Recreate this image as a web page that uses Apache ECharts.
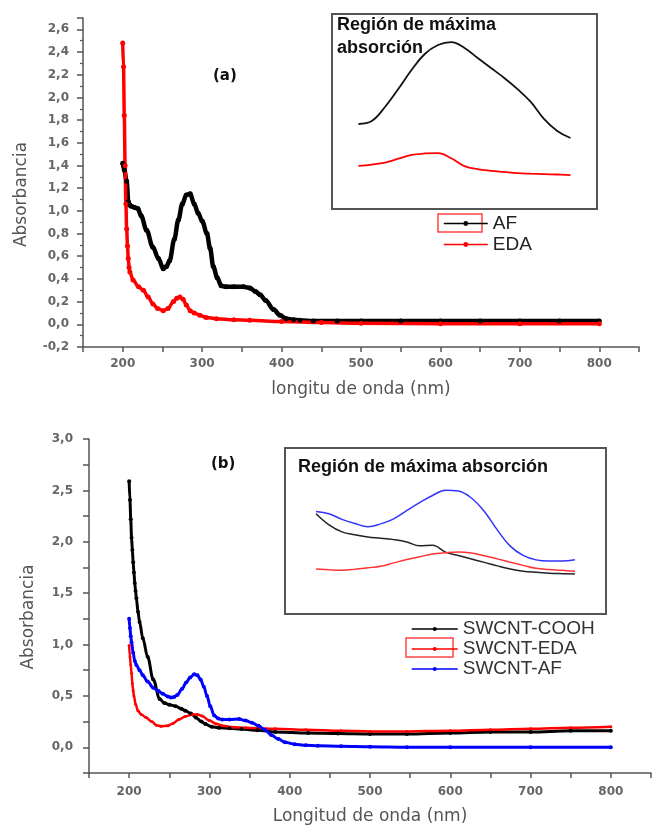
<!DOCTYPE html>
<html>
<head>
<meta charset="utf-8">
<script src="https://cdn.jsdelivr.net/npm/echarts@6/dist/echarts.min.js"></script>
<style>html,body{margin:0;padding:0;background:#fff}#c{width:654px;height:827px}</style>
</head>
<body>
<div id="c"></div>
<script>
// ---------- Panel (a) main data ----------
var aAF_x = [200,202,205,207,209,211,215,219,223,230,238,245,251,255,259,265,270,275,280,285,290,295,300,306,310,314,319,324,330,340,352,360,367,373,380,390,398,406,415,423,440,470,500,550,600,650,700,750,800];
var aAF_y = [1.42,1.36,1.26,1.08,1.05,1.04,1.03,1.02,0.96,0.83,0.68,0.58,0.49,0.51,0.56,0.75,0.92,1.06,1.14,1.15,1.06,0.98,0.91,0.80,0.67,0.51,0.41,0.34,0.33,0.33,0.33,0.32,0.29,0.26,0.21,0.13,0.08,0.05,0.04,0.035,0.03,0.03,0.03,0.03,0.03,0.03,0.03,0.03,0.03];
var aEDA_x = [200,201,202,203,204,205,206,207,208,209,213,220,226,232,238,244,251,257,264,268,272,276,280,285,290,297,305,318,340,360,400,450,500,600,700,800];
var aEDA_y = [2.48,2.27,1.84,1.40,1.06,0.84,0.69,0.58,0.50,0.46,0.39,0.33,0.30,0.24,0.18,0.14,0.12,0.14,0.20,0.23,0.24,0.22,0.17,0.12,0.10,0.08,0.06,0.05,0.04,0.035,0.025,0.015,0.01,0.005,0.005,0.005];
// ---------- Panel (a) inset data ----------
var aIn_x = [240,245,250,255,260,265,270,275,280,285,290,295,300,305,310,315,320];
var aInAF_y = [0.436,0.451,0.523,0.615,0.713,0.795,0.841,0.856,0.826,0.774,0.723,0.672,0.615,0.549,0.462,0.400,0.364];
var aInEDA_y = [0.221,0.228,0.238,0.258,0.277,0.285,0.287,0.260,0.220,0.204,0.196,0.190,0.184,0.181,0.179,0.177,0.174];
// ---------- Panel (b) main data ----------
var bCOOH_x = [200,201,202,203,204,205,206,207,208,209,211,213,217,223,230,238,244,250,258,265,270,277,283,290,295,303,312,325,340,360,382,423,460,500,546,600,650,700,750,800];
var bCOOH_y = [2.59,2.41,2.22,2.04,1.92,1.80,1.70,1.60,1.52,1.45,1.32,1.22,1.06,0.88,0.66,0.47,0.43,0.415,0.40,0.375,0.355,0.33,0.29,0.25,0.226,0.20,0.19,0.185,0.178,0.165,0.15,0.14,0.135,0.13,0.13,0.14,0.15,0.15,0.16,0.16];
var bEDA_x = [200,201,202,203,204,205,206,208,211,215,221,228,234,240,248,255,262,270,279,285,291,300,308,316,330,345,382,420,464,500,546,600,650,700,750,800];
var bEDA_y = [0.99,0.88,0.80,0.72,0.62,0.55,0.50,0.42,0.355,0.32,0.29,0.25,0.215,0.205,0.21,0.235,0.27,0.30,0.32,0.32,0.305,0.26,0.23,0.21,0.195,0.19,0.18,0.17,0.16,0.155,0.155,0.16,0.17,0.18,0.19,0.20];
var bAF_x = [200,201,202,203,205,207,209,213,217,223,230,236,242,248,252,256,260,266,271,276,281,285,289,293,297,301,306,311,316,325,337,345,353,361,369,377,386,394,406,420,435,464,500,546,600,700,800];
var bAF_y = [1.25,1.16,1.08,1.02,0.92,0.84,0.80,0.75,0.70,0.64,0.58,0.55,0.52,0.495,0.485,0.49,0.51,0.57,0.63,0.68,0.71,0.70,0.66,0.59,0.50,0.40,0.31,0.28,0.27,0.27,0.275,0.26,0.24,0.21,0.17,0.12,0.08,0.05,0.03,0.02,0.015,0.01,0.005,0.0,0.0,0.0,0.0];
// ---------- Panel (b) inset data ----------
var bIn_x = [240,245,250,255,260,265,270,275,280,285,290,295,300,305,310,315,320,325,330,335,340];
var bInAF_y = [0.618,0.604,0.570,0.545,0.526,0.543,0.573,0.623,0.671,0.714,0.746,0.741,0.699,0.618,0.507,0.409,0.353,0.326,0.319,0.319,0.327];
var bInCOOH_y = [0.604,0.537,0.495,0.478,0.464,0.457,0.448,0.434,0.411,0.414,0.373,0.352,0.331,0.311,0.290,0.271,0.258,0.251,0.246,0.243,0.241];
var bInEDA_y = [0.271,0.267,0.264,0.269,0.278,0.288,0.308,0.328,0.345,0.362,0.369,0.373,0.367,0.351,0.332,0.312,0.293,0.275,0.268,0.263,0.257];

function zip(xs, ys){ return xs.map(function(x,i){ return [x, ys[i]]; }); }
function comma(v, d){ return v.toFixed(d).replace('.', ','); }

var axisCol = '#555';
var tickFont = {fontFamily:'DejaVu Sans', fontWeight:'bold', fontSize:12, color:'#666'};
var nameFont = {fontFamily:'DejaVu Sans', fontSize:17, color:'#555'};
function xFmt(v){ return (v%100===0 && v>=200 && v<=800) ? String(v) : ''; }

function mainX(gi, nameStr, gap, margin){
  return {
    type:'value', gridIndex:gi, min:150, max:850, interval:50,
    name:nameStr, nameLocation:'middle', nameGap:gap, nameTextStyle:nameFont,
    axisLine:{show:true, onZero:false, lineStyle:{color:axisCol, width:1.5}},
    axisTick:{show:true, length:5, lineStyle:{color:axisCol, width:1.5}},
    axisLabel:Object.assign({margin:margin, formatter:xFmt}, tickFont),
    splitLine:{show:false}
  };
}

var option = {
  animation:false,
  backgroundColor:'#fff',
  grid:[
    {left:83, top:18, right:15, bottom:480},
    {left:332, top:14, width:265, height:195, show:true, borderColor:'#555', borderWidth:2, backgroundColor:'#fff'},
    {left:89, top:439, right:-3, bottom:54},
    {left:285, top:448, width:321, height:166, show:true, borderColor:'#555', borderWidth:2, backgroundColor:'#fff'}
  ],
  xAxis:[
    mainX(0, 'longitu de onda (nm)', 34, 11),
    {type:'value', gridIndex:1, min:230, max:330, show:false},
    mainX(2, 'Longitud de onda (nm)', 35, 13),
    {type:'value', gridIndex:3, min:228, max:352, show:false}
  ],
  yAxis:[
    {type:'value', gridIndex:0, min:-0.2, max:2.7, interval:0.2,
     name:'Absorbancia', nameLocation:'middle', nameGap:53, nameTextStyle:Object.assign({padding:[0,24,0,0]}, nameFont),
     axisLine:{show:true, onZero:false, lineStyle:{color:axisCol, width:1.5}},
     axisTick:{show:true, length:6, lineStyle:{color:axisCol, width:1.5}},
     minorTick:{show:true, splitNumber:2, length:3, lineStyle:{color:axisCol, width:1.2}},
     axisLabel:Object.assign({margin:14, formatter:function(v){ return Math.abs(v-2.7)<1e-6 ? '' : comma(v,1); }}, tickFont),
     splitLine:{show:false}},
    {type:'value', gridIndex:1, min:0, max:1, show:false},
    {type:'value', gridIndex:2, min:-0.25, max:3.0, interval:0.25,
     name:'Absorbancia', nameLocation:'middle', nameGap:52, nameTextStyle:Object.assign({padding:[0,22,0,0]}, nameFont),
     axisLine:{show:true, onZero:false, lineStyle:{color:axisCol, width:1.5}},
     axisTick:{show:true, length:6, lineStyle:{color:axisCol, width:1.5}},
     axisLabel:Object.assign({margin:16, formatter:function(v){ var r = Math.round(v*4); return (r%2===0) ? comma(v,1) : ''; }}, tickFont),
     splitLine:{show:false}},
    {type:'value', gridIndex:3, min:0, max:1, show:false}
  ],
  legend:[
    {data:['AF','EDA'], orient:'vertical', left:438, top:208, itemWidth:44, itemHeight:6, itemGap:0,
     lineStyle:{width:1.5}, textStyle:{fontFamily:'Liberation Sans', fontSize:19, color:'#222', lineHeight:21}, selectedMode:false},
    {data:['SWCNT-COOH','SWCNT-EDA','SWCNT-AF'], orient:'vertical', left:406, top:614, itemWidth:46, itemHeight:5, itemGap:0,
     lineStyle:{width:1.5}, textStyle:{fontFamily:'Liberation Sans', fontSize:19, color:'#333', lineHeight:20}, selectedMode:false}
  ],
  series:[
    {name:'AF', type:'line', xAxisIndex:0, yAxisIndex:0, data:zip(aAF_x, aAF_y), smooth:0.35, smoothMonotone:'x',
     symbol:'circle', symbolSize:5, showAllSymbol:true, itemStyle:{color:'#000'}, lineStyle:{color:'#000', width:4.5}},
    {name:'EDA', type:'line', xAxisIndex:0, yAxisIndex:0, data:zip(aEDA_x, aEDA_y), smooth:0.35, smoothMonotone:'x',
     symbol:'circle', symbolSize:5, showAllSymbol:true, itemStyle:{color:'#ff0000'}, lineStyle:{color:'#ff0000', width:3.5}},
    {name:'AF-inset', type:'line', xAxisIndex:1, yAxisIndex:1, data:zip(aIn_x, aInAF_y), smooth:0.4, showSymbol:false,
     lineStyle:{color:'#111', width:1.8}},
    {name:'EDA-inset', type:'line', xAxisIndex:1, yAxisIndex:1, data:zip(aIn_x, aInEDA_y), smooth:0.4, showSymbol:false,
     lineStyle:{color:'#ff0000', width:1.8}},
    {name:'SWCNT-COOH', type:'line', xAxisIndex:2, yAxisIndex:2, data:zip(bCOOH_x, bCOOH_y), smooth:0.35, smoothMonotone:'x',
     symbol:'circle', symbolSize:4, showAllSymbol:true, itemStyle:{color:'#000'}, lineStyle:{color:'#000', width:3}},
    {name:'SWCNT-EDA', type:'line', xAxisIndex:2, yAxisIndex:2, data:zip(bEDA_x, bEDA_y), smooth:0.35, smoothMonotone:'x',
     symbol:'circle', symbolSize:3, showAllSymbol:true, itemStyle:{color:'#ff0000'}, lineStyle:{color:'#ff0000', width:2.5}},
    {name:'SWCNT-AF', type:'line', xAxisIndex:2, yAxisIndex:2, data:zip(bAF_x, bAF_y), smooth:0.35, smoothMonotone:'x',
     symbol:'circle', symbolSize:4, showAllSymbol:true, itemStyle:{color:'#0000ff'}, lineStyle:{color:'#0000ff', width:3}},
    {name:'COOH-inset', type:'line', xAxisIndex:3, yAxisIndex:3, data:zip(bIn_x, bInCOOH_y), smooth:0.4, showSymbol:false,
     lineStyle:{color:'#222', width:1.5}},
    {name:'EDAb-inset', type:'line', xAxisIndex:3, yAxisIndex:3, data:zip(bIn_x, bInEDA_y), smooth:0.4, showSymbol:false,
     lineStyle:{color:'#ff3333', width:1.5}},
    {name:'AFb-inset', type:'line', xAxisIndex:3, yAxisIndex:3, data:zip(bIn_x, bInAF_y), smooth:0.4, showSymbol:false,
     lineStyle:{color:'#3333ff', width:1.5}}
  ],
  graphic:[
    {type:'text', left:213, top:69, style:{text:'(a)', font:'bold 15px "DejaVu Sans"', fill:'#111'}},
    {type:'text', left:211, top:457, style:{text:'(b)', font:'bold 15px "DejaVu Sans"', fill:'#111'}},
    {type:'text', left:337, top:14, style:{text:'Región de máxima\nabsorción', font:'bold 18px "Liberation Sans"', fill:'#111', lineHeight:23}},
    {type:'text', left:298, top:458, style:{text:'Región de máxima absorción', font:'bold 18px "Liberation Sans"', fill:'#111'}},
    {type:'rect', shape:{x:438, y:214, width:44, height:18}, style:{fill:'none', stroke:'#ff4444', lineWidth:1.5}},
    {type:'rect', shape:{x:406, y:638, width:47, height:19}, style:{fill:'none', stroke:'#ff4444', lineWidth:1.5}}
  ]
};
var chart = echarts.init(document.getElementById('c'), null, {renderer:'canvas'});
chart.setOption(option);
</script>
</body>
</html>
